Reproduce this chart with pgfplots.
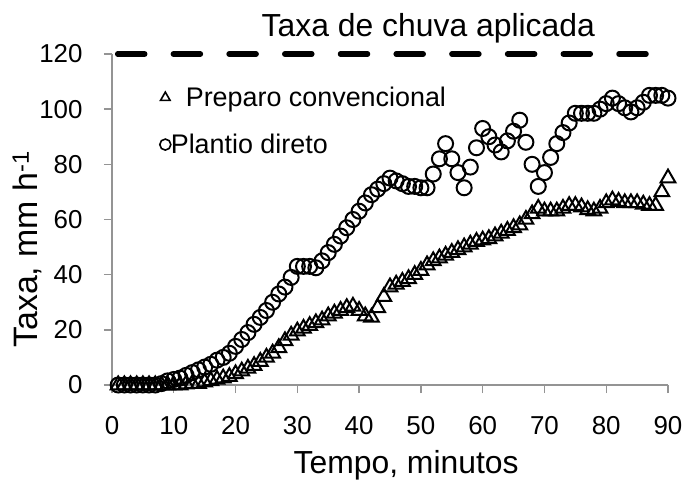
\documentclass[border=0pt]{standalone}
\usepackage{pgfplots}
\pgfplotsset{compat=1.18}
\usepackage{fontspec}
\setmainfont{Liberation Sans}

% Infiltration-rate series, one reading per minute
\pgfplotstableread{
t pc pd
1 0 0
2 0 0
3 0 0
4 0 0
5 0 0
6 0 0
7 0 0
8 0 0.5
9 0 1.5
10 0 2
11 0 2.5
12 0.3 3.5
13 0.5 4.5
14 0.5 5.5
15 1 6.5
16 1.5 7.5
17 2 9
18 2.5 10
19 3 11.5
20 4 14
21 5 16.5
22 6 19
23 7 22
24 8.5 24.5
25 10 27
26 11.5 30
27 13.5 33
28 16 35.5
29 18 39
30 19.5 43
31 20.5 43
32 21.5 43
33 22.5 42.5
34 23.5 45
35 25 48
36 26 51
37 27 54
38 28 57
39 28.5 60
40 27 63
41 25 66
42 24.5 69
43 28 71
44 32 73
45 35.5 75
46 36.5 74
47 37.5 73
48 38.5 72
49 40 72
50 41.5 71.5
51 43.5 71.5
52 45 76.5
53 46 82
54 47 87.5
55 48 82
56 49 77
57 50 71.5
58 51 79
59 52 86
60 52.5 93
61 53 90
62 54 87
63 55 84.5
64 56 88.5
65 57 92
66 58 96
67 60 88
68 62 80
69 64 72
70 63 77
71 63 82.5
72 63 87.5
73 64 91.5
74 65 95
75 65 98.5
76 64.5 98.5
77 63.5 98.5
78 63 98.5
79 64 100
80 66 102
81 67 104
82 66.5 102
83 66 100.5
84 66 99
85 66 100.5
86 65.5 102.5
87 65 105
88 65 105
89 70 105
90 75 104
}\ratedata

\begin{document}
\begin{tikzpicture}
\useasboundingbox (-112bp,-97bp) rectangle (575bp,385bp);
\begin{axis}[
  at={(0,0)}, anchor=south west,
  scale only axis,
  width=556bp, height=331bp,
  xmin=0, xmax=90, ymin=0, ymax=120,
  xtick={0,10,...,90}, ytick={0,20,...,120},
  axis x line*=bottom, axis y line*=left,
  axis line style={draw=black!42, line width=1.4bp, -},
  tick style={draw=black!42, line width=1.4bp},
  major tick length=8bp,
  xtick align=outside, ytick align=outside,
  tick label style={font=\fontsize{26}{30}\selectfont},
  /pgf/number format/assume math mode=true,
  xticklabel style={yshift=-19.5bp},
  yticklabel style={xshift=-18bp},
  xlabel={Tempo, minutos},
  ylabel={Taxa, mm h\textsuperscript{-1}},
  xlabel style={font=\fontsize{32}{36}\selectfont, inner sep=0pt,
    at={(axis description cs:0.529,-0.243)}, anchor=center},
  ylabel style={font=\fontsize{34}{38}\selectfont, inner sep=0pt,
    at={(axis description cs:-0.152,0.41)}, anchor=center},
  clip=false,
  legend style={
    draw=none, fill=none, inner sep=0pt, outer sep=0pt,
    at={(axis description cs:0.086,0.9)}, anchor=north west,
    font=\fontsize{27}{31}\selectfont,
    nodes={inner sep=0pt},
    row sep=26bp,
    /tikz/every even column/.append style={column sep=6bp},
  },
  legend cell align=left,
  legend image code/.code={
    \path[draw=none, fill=none] (-5.5bp,-5.5bp) rectangle (5.5bp,5.5bp);
    \draw[#1, mark size=5.5bp, line width=1.6bp] plot coordinates {(0bp,0bp)};},
]
% applied rainfall rate
\addplot[forget plot, black, line width=5.5bp, line cap=round,
  dash pattern=on 27bp off 28.7bp, dash phase=50bp]
  coordinates {(0,120) (90,120)};
\node[anchor=center, font=\fontsize{32}{36}\selectfont, inner sep=0pt]
  at (axis cs:51.2,129.4) {Taxa de chuva aplicada};

\addplot[only marks, mark=triangle, mark size=8.5bp, line width=2bp, black]
  table[x=t, y=pc] {\ratedata};
\addlegendentry{\hspace*{15bp}Preparo convencional}
\addplot[only marks, mark=o, mark size=7.5bp, line width=2bp, black]
  table[x=t, y=pd] {\ratedata};
\addlegendentry{Plantio direto}
\end{axis}
\end{tikzpicture}
\end{document}
